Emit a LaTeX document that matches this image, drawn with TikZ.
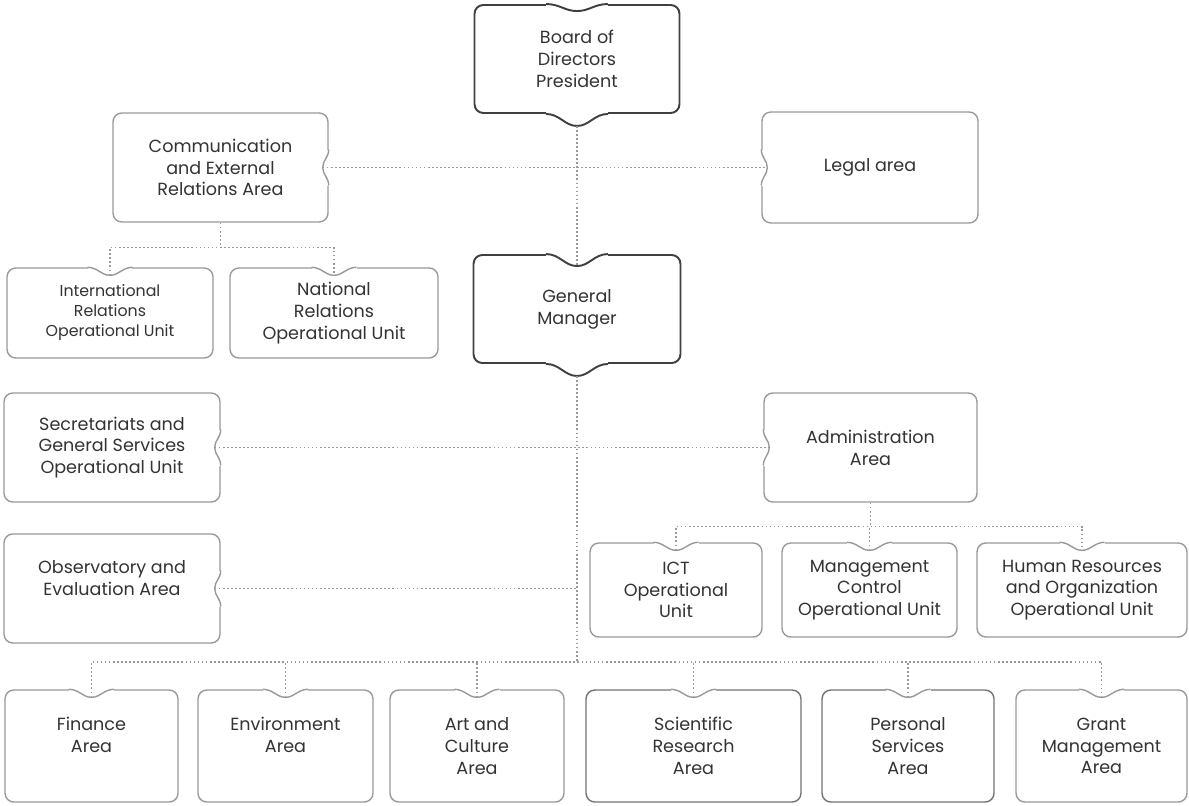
\documentclass[tikz,border=0pt]{standalone}
\usepackage{fontspec}
\setmainfont{Poppins}
\tikzset{
  notch w/.store in=\notchw, notch d/.store in=\notchd,
  notch w=0.4cm, notch d=0.16cm,
  notch/.pic={
    \fill[white] (-\notchw,-1.6pt) rectangle (\notchw,1.6pt);
    \draw[pic actions] (-\notchw,0pt) .. controls (-0.55*\notchw,0pt) and (-0.4*\notchw,-\notchd) .. (0pt,-\notchd)
      .. controls (0.4*\notchw,-\notchd) and (0.55*\notchw,0pt) .. (\notchw,0pt);
    \coordinate (-tip) at (0pt,-\notchd);
  }
}
\begin{document}
\begin{tikzpicture}[x=0.02cm, y=-0.02cm]
  \tikzstyle{unitbox}=[draw=black!40, line width=0.8pt, rounded corners=5pt, fill=white, align=center, text=black!80, font=\fontsize{10}{12.4}\selectfont, inner sep=2pt]
  \tikzstyle{headbox}=[unitbox, draw=black!75, line width=1.1pt]
  \tikzstyle{rim}=[draw=black!40, line width=0.8pt]
  \tikzstyle{headrim}=[draw=black!75, line width=1.1pt, notch w=0.62cm, notch d=0.24cm]
  \tikzstyle{link}=[black!40, line width=0.9pt, dash pattern=on 1pt off 1.3pt]

  \useasboundingbox (0,0) rectangle (1189,805);

  % top
  \node[headbox, minimum width=4.1cm,  minimum height=2.16cm] (board) at (577,59)    {Board of\\Directors\\President};
  \node[unitbox, minimum width=4.3cm,  minimum height=2.18cm] (comm)  at (220.5,167.5) {Communication\\and External\\Relations Area};
  \node[unitbox, minimum width=4.32cm, minimum height=2.22cm] (legal) at (870,167.5)  {Legal area};
  \node[unitbox, minimum width=4.12cm, minimum height=1.8cm, font=\fontsize{9}{11.4}\selectfont] (intl) at (110,313) {International\\Relations\\Operational Unit};
  \node[unitbox, minimum width=4.16cm, minimum height=1.8cm]  (natl)  at (334,313)    {National\\Relations\\Operational Unit};
  \node[headbox, minimum width=4.14cm, minimum height=2.16cm] (gm)    at (577,309)    {General\\Manager};

  % middle
  \node[unitbox, minimum width=4.32cm, minimum height=2.18cm] (sec) at (112,447.5)   {Secretariats and\\General Services\\Operational Unit};
  \node[unitbox, minimum width=4.26cm, minimum height=2.18cm] (adm) at (870.5,447.5) {Administration\\Area};
  \node[unitbox, minimum width=4.32cm, minimum height=2.18cm] (obs) at (112,588.5)   {Observatory and\\Evaluation Area\\\mbox{}};
  \node[unitbox, minimum width=3.44cm, minimum height=1.88cm] (ict)  at (676,590)    {ICT\\Operational\\Unit};
  \node[unitbox, minimum width=3.5cm,  minimum height=1.88cm] (mgmt) at (869.5,590)  {Management\\Control\\Operational Unit};
  \node[unitbox, minimum width=4.2cm,  minimum height=1.88cm] (hr)   at (1082,590)   {Human Resources\\and Organization\\Operational Unit};

  % bottom
  \node[unitbox, minimum width=3.46cm, minimum height=2.24cm] (fin)   at (91.5,746)  {Finance\\Area\\\mbox{}};
  \node[unitbox, minimum width=3.5cm,  minimum height=2.24cm] (env)   at (285.5,746) {Environment\\Area\\\mbox{}};
  \node[unitbox, minimum width=3.48cm, minimum height=2.24cm] (art)   at (477,746)   {Art and\\Culture\\Area};
  \node[unitbox, minimum width=4.3cm,  minimum height=2.24cm, draw=black!55] (sci)  at (693.5,746) {Scientific\\Research\\Area};
  \node[unitbox, minimum width=3.44cm, minimum height=2.24cm, draw=black!55] (pers) at (908,746)   {Personal\\Services\\Area};
  \node[unitbox, minimum width=3.42cm, minimum height=2.24cm] (grant) at (1101.5,746) {Grant\\Management\\Area};

  % notches
  \pic[headrim, notch d=0.14cm] (board-n) at (board.north) {notch};
  \pic[headrim]            (board-s) at (board.south) {notch};
  \pic[headrim]            (gm-n)    at (gm.north)    {notch};
  \pic[headrim]            (gm-s)    at (gm.south)    {notch};
  \pic[rim, rotate=-90, notch w=0.36cm, notch d=0.12cm] (comm-e)  at (comm.east)  {notch};
  \pic[rim, rotate=90,  notch w=0.36cm, notch d=0.12cm] (legal-w) at (legal.west) {notch};
  \pic[rim, rotate=-90, notch w=0.36cm, notch d=0.12cm] (sec-e)   at (sec.east)   {notch};
  \pic[rim, rotate=90,  notch w=0.36cm, notch d=0.12cm] (adm-w)   at (adm.west)   {notch};
  \pic[rim, rotate=-90, notch w=0.36cm, notch d=0.12cm] (obs-e)   at (obs.east)   {notch};
  \foreach \n in {intl,natl,ict,mgmt,hr,fin,env,art,sci,pers,grant}
    \pic[rim, notch w=0.45cm] (\n-n) at (\n.north) {notch};

  % connectors
  \coordinate (cbus) at ([yshift=-0.5cm]comm.south);
  \coordinate (abus) at ([yshift=-0.48cm]adm.south);
  \coordinate (bbus) at (577,662);

  \draw[link] (board-s-tip) -- (gm-n-tip);
  \draw[link] (comm-e-tip) -- (legal-w-tip);
  \draw[link] (comm.south) -- (cbus);
  \draw[link] (intl-n-tip) |- (cbus) -| (natl-n-tip);
  \draw[link] (sec-e-tip) -- (adm-w-tip);
  \draw[link] (obs-e-tip) -- (obs-e-tip -| gm-s-tip);
  \draw[link] (adm.south) -- (abus);
  \draw[link] (ict-n-tip) |- (abus) -| (hr-n-tip);
  \draw[link] (mgmt-n-tip) -- (mgmt-n-tip |- abus);
  \draw[link] (gm-s-tip) -- (bbus);
  \draw[link] (fin-n-tip) |- (bbus) -| (grant-n-tip);
  \foreach \n in {env,art,sci,pers}
    \draw[link] (\n-n-tip) -- (\n-n-tip |- bbus);
\end{tikzpicture}
\end{document}
